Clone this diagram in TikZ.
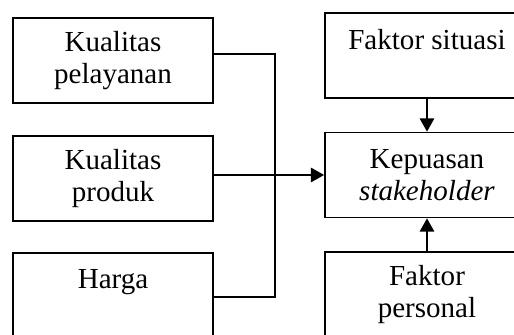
\documentclass[tikz,border=0pt,12pt]{standalone}
\usepackage{fontspec}
\setmainfont{Liberation Serif}
\usetikzlibrary{arrows.meta}

\begin{document}
\begin{tikzpicture}[
    x=0.4545pt,
    y=-0.4545pt,
    line width=0.8pt,
    kotak/.style={
      draw,
      rectangle,
      align=center,
      minimum width=90.9pt,
      minimum height=38.6pt,
      inner sep=0pt,
      font=\fontsize{13.2}{14.8}\selectfont
    },
    kotakkanan/.style={
      kotak,
      minimum width=92.7pt
    },
    panah/.style={-{Triangle[length=6pt,width=6.5pt]}}
  ]
    \useasboundingbox (0, 0) rectangle (514, 334);

    \node[kotak] (layanan) at (113, 60.5) {Kualitas\\pelayanan};
    \node[kotak] (produk) at (113, 178.5) {Kualitas\\produk};
    \node[kotak] (harga) at (113, 295.5) {Harga\\~};
    \node[kotakkanan] (situasi) at (427, 55.5) {Faktor situasi\\~};
    \node[kotakkanan] (puas) at (427, 175) {Kepuasan\\\textit{stakeholder}};
    \node[kotakkanan] (personal) at (427, 294.5) {Faktor\\personal};

    \coordinate (c1) at ([yshift=3pt]layanan.east);
    \coordinate (c2) at ([yshift=1.6pt]produk.east);
    \coordinate (c3) at ([yshift=-0.7pt]harga.east);
    \coordinate (sudut1) at (275, 54);

    \draw[-] (c1) -- (c1 -| sudut1) -- (sudut1 |- c3) -- (c3);
    \draw[panah] (c2) -- (c2 -| puas.west);
    \draw[panah] (situasi) to (puas);
    \draw[panah] (personal) to (puas);
  \end{tikzpicture}
\end{document}
